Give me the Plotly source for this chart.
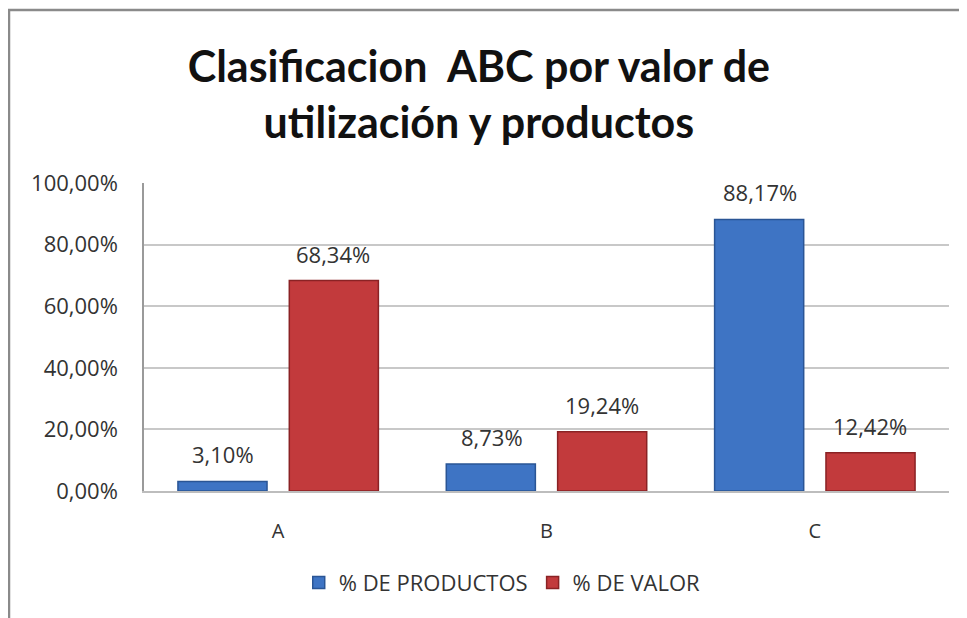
import plotly.graph_objects as go

categories = ["A", "B", "C"]
pct_productos = [0.0310, 0.0873, 0.8817]
pct_valor = [0.6834, 0.1924, 0.1242]
series_names = ["% DE PRODUCTOS", "% DE VALOR"]
tick_vals = [0, 0.2, 0.4, 0.6, 0.8, 1.0]

blue = "#3E74C4"
red = "#C23A3C"
label_font = dict(family="Open Sans", size=22, color="#333333")

fig = go.Figure()
fig.add_trace(go.Bar(
    x=categories, y=pct_productos, name=series_names[0],
    marker=dict(color=blue, line=dict(color="#2A5595", width=1.5)),
))
fig.add_trace(go.Bar(
    x=categories, y=pct_valor, name=series_names[1],
    marker=dict(color=red, line=dict(color="#8A2224", width=1.5)),
))

# value labels above bars, positioned from the data
for vals, shift in ((pct_productos, -55), (pct_valor, 55)):
    for cat, v in zip(categories, vals):
        fig.add_annotation(
            x=cat, y=v, xref="x", yref="y", text=f"{v*100:.2f}%".replace(".", ","),
            showarrow=False, xshift=shift, yshift=27, yanchor="middle",
            font=label_font,
        )

fig.update_layout(
    width=959, height=610,
    separators=",.",
    paper_bgcolor="white", plot_bgcolor="white",
    margin=dict(l=136, r=18, t=175, b=127),
    bargap=0.17, bargroupgap=0.2,
    title=dict(
        text="Clasificacion  ABC por valor de<br>utilización y productos",
        x=0.491, xanchor="center", xref="container",
        y=0.879, yanchor="middle", yref="container",
        font=dict(family="Lato", size=43, color="#111111", weight="bold"),
    ),
    showlegend=True,
    legend=dict(
        orientation="h", x=0.445, xanchor="center", y=-0.298, yanchor="middle",
        font=dict(family="Open Sans", size=22, color="#333333"),
        itemwidth=30, traceorder="normal",
    ),
    font=dict(family="Open Sans"),
)
fig.update_yaxes(
    range=[0, 1.0], tickvals=tick_vals, tickformat=".2%",
    tickfont=dict(family="Open Sans", size=22, color="#333333"),
    showgrid=True, gridcolor="#C8C8C8", gridwidth=1.5,
    showline=True, linecolor="#9A9A9A", linewidth=1.5,
    ticks="", zeroline=False, ticklabelstandoff=20,
)
fig.update_xaxes(
    tickfont=dict(family="Open Sans", size=20, color="#333333"),
    showline=True, linecolor="#BDBDBD", linewidth=1.5, ticks="",
    ticklabelstandoff=21,
)
fig.add_shape(type="rect", xref="paper", yref="paper",
              x0=-135/805, x1=1.3, y0=-0.6, y1=481/308,
              line=dict(color="#8A8A8A", width=2.5), layer="below")

fig.write_html("out.html")
